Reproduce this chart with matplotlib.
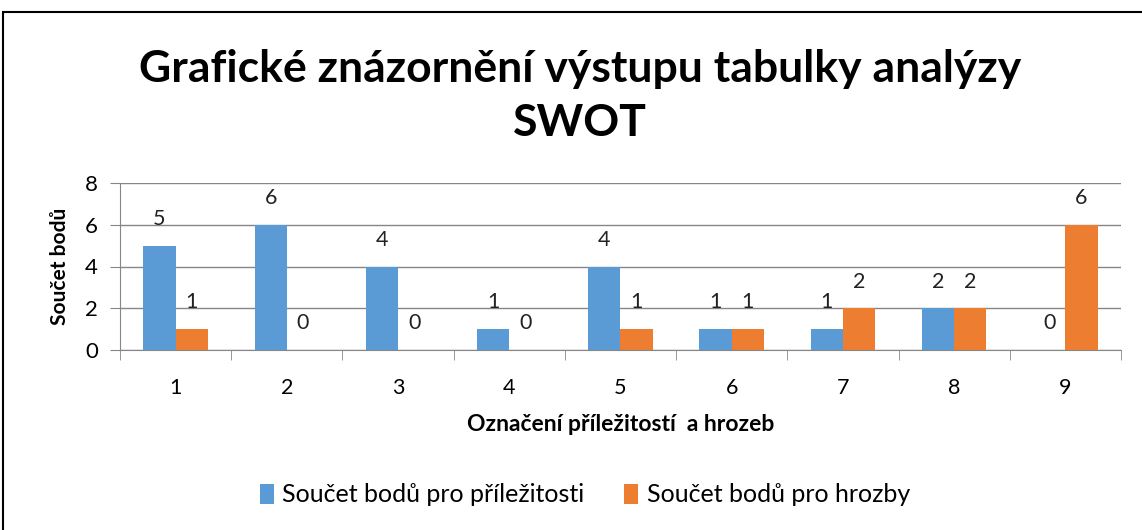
import matplotlib.pyplot as plt
from matplotlib.patches import Rectangle
import numpy as np

# data
categories = ['1', '2', '3', '4', '5', '6', '7', '8', '9']
prilezitosti = [5, 6, 4, 1, 4, 1, 1, 2, 0]
hrozby = [1, 0, 0, 0, 1, 1, 2, 2, 6]
y_ticks = [0, 2, 4, 6, 8]

plt.rcParams['font.family'] = ['Lato', 'DejaVu Sans']

fig = plt.figure(figsize=(11.42, 5.30), dpi=100)
W, H = 1142, 530

# outer chart frame (cut off at right and bottom)
fig.patches.append(Rectangle((3 / W, -0.1), 1.2, (530 - 12) / H + 0.1,
                             transform=fig.transFigure, fill=False,
                             edgecolor='black', linewidth=1.5))

ax = fig.add_axes([120 / W, (H - 350) / H, (1121 - 120) / W, (350 - 183) / H])

x = np.arange(len(categories))
bw = 0.29
blue = '#5B9BD5'
orange = '#ED7D31'
b1 = ax.bar(x - bw / 2, prilezitosti, bw, color=blue, label='Součet bodů pro příležitosti', zorder=3)
b2 = ax.bar(x + bw / 2, hrozby, bw, color=orange, label='Součet bodů pro hrozby', zorder=3)

for bars, vals in ((b1, prilezitosti), (b2, hrozby)):
    for rect, v in zip(bars, vals):
        ax.annotate(str(v), (rect.get_x() + rect.get_width() / 2, v),
                    xytext=(0, 12), textcoords='offset points',
                    ha='center', va='bottom', fontsize=15.5, color='#222222')

ax.set_xlim(-0.5, len(categories) - 0.5)
ax.set_ylim(0, 8)
ax.set_yticks(y_ticks)
ax.tick_params(axis='y', labelsize=16, length=7, color='#868686', pad=9)
ax.yaxis.grid(True, color='#868686', linewidth=1, zorder=0)

ax.set_xticks(x)
ax.set_xticklabels(categories, fontsize=15.5)
ax.tick_params(axis='x', length=0, pad=20)
# category boundary ticks
ax.set_xticks(np.arange(len(categories) + 1) - 0.5, minor=True)
ax.tick_params(axis='x', which='minor', length=7, color='#868686')

for s in ('top', 'right'):
    ax.spines[s].set_visible(False)
ax.spines['left'].set_color('#868686')
ax.spines['bottom'].set_color('#868686')

ax.set_ylabel('Součet bodů', fontsize=15, fontweight='bold', labelpad=11)
ax.set_xlabel('Označení příležitostí  a hrozeb', fontsize=16.5, fontweight='bold', labelpad=12)

fig.text(580 / W, 1 - 96 / H, 'Grafické znázornění výstupu tabulky analýzy\nSWOT',
         ha='center', va='center', fontsize=32, fontweight='bold', linespacing=1.45)

fig.legend(handles=[b1, b2], loc='center', bbox_to_anchor=(585 / W, 1 - 495 / H),
           ncol=2, frameon=False, fontsize=18, handlelength=0.55, handleheight=0.85,
           columnspacing=1.6, handletextpad=0.35)

fig.savefig('out.png', dpi=100)
